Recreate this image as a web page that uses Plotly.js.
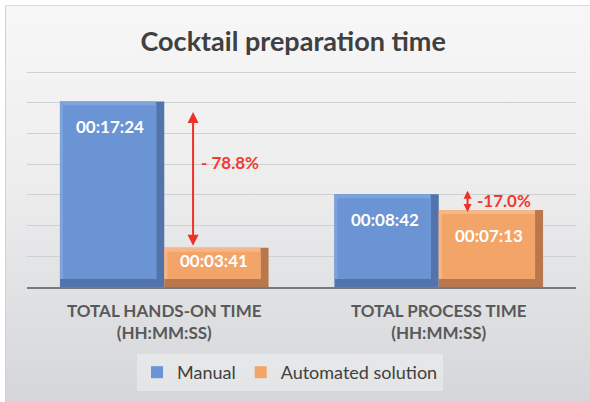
<!DOCTYPE html>
<html>
<head>
<meta charset="utf-8">
<script src="https://cdn.plot.ly/plotly-3.0.1.min.js"></script>
<style>
  html, body { margin: 0; padding: 0; }
  body { width: 590px; height: 402px; position: relative; overflow: hidden; }
  #bg {
    position: absolute; left: 5px; top: 5px; width: 584px; height: 396px;
    border-left: 1px solid #cfd1d3; border-top: 1px solid #dcdcdc;
    background: linear-gradient(to bottom, #f7f7f7 0%, #ededee 45%, #d4d6d9 100%);
  }
  #chart { position: absolute; left: 0; top: 0; width: 590px; height: 402px; }
</style>
</head>
<body>
<div id="bg"></div>
<div id="chart"></div>
<script>
// values in seconds
const categories = ['TOTAL HANDS-ON TIME<br>(HH:MM:SS)', 'TOTAL PROCESS TIME<br>(HH:MM:SS)'];
const manualSec = [1044, 522];      // 00:17:24, 00:08:42
const automatedSec = [221, 433];    // 00:03:41, 00:07:13
const changeLabels = ['- 78.8%', '-17.0%'];

// Excel time axis: grid every 0.002 day
const gridStep = 172.8;
const yTop = 7 * gridStep * 1.01;

// plot box in px, used to turn bevel sizes into axis units
const M = { l: 27, r: 14, t: 70, b: 115 };
const plotW = 590 - M.l - M.r, plotH = 402 - M.t - M.b;
const pxX = 2 / plotW;          // x range is 2 categories wide
const pxY = yTop / plotH;

function hms(s) {
  const h = Math.floor(s / 3600), m = Math.floor((s % 3600) / 60), sec = s % 60;
  return [h, m, sec].map(v => String(v).padStart(2, '0')).join(':');
}

const font = 'Lato, "Open Sans", sans-serif';
const barW = 0.38;
const bevel = { l: 3, r: 8, t: 4, b: 8 };

const series = [
  { name: 'Manual', vals: manualSec, off: -barW, edge: '#5273ab', light: '#7ea3dc', face: '#6a94d4' },
  { name: 'Automated solution', vals: automatedSec, off: 0, edge: '#b9774d', light: '#f7b688', face: '#f3a469' }
];

const xs = [0, 1];
const traces = [];
series.forEach(s => {
  const baseB = bevel.b * pxY;
  traces.push({
    type: 'bar', x: xs, y: s.vals, offset: s.off, width: barW,
    marker: { color: s.edge }, showlegend: false, hoverinfo: 'skip'
  });
  traces.push({
    type: 'bar', x: xs, y: s.vals.map(v => v - baseB), base: baseB,
    offset: s.off, width: barW - bevel.r * pxX,
    marker: { color: s.light }, showlegend: false, hoverinfo: 'skip'
  });
  traces.push({
    type: 'bar', name: s.name, x: xs, y: s.vals.map(v => v - baseB - bevel.t * pxY), base: baseB,
    offset: s.off + bevel.l * pxX, width: barW - (bevel.l + bevel.r) * pxX,
    marker: { color: s.face }, hoverinfo: 'skip'
  });
});

const annotations = [];

// value labels inside the bars
series.forEach(s => {
  s.vals.forEach((v, i) => {
    const px = v / pxY;
    annotations.push({
      x: i + s.off + barW / 2, y: v, xref: 'x', yref: 'y', text: hms(v), showarrow: false,
      yanchor: 'middle', yshift: -Math.min(25, px / 3), xshift: -2,
      font: { family: font, size: 17, color: '#ffffff', weight: 'bold' }
    });
  });
});

// red double arrows with percentage change
const arrowX = 0.105;
const tipTop = [-9, 5];      // px past the manual bar top
const tipBottom = [2, -2];   // px above the automated bar top
const labelShift = [[6, 12], [7, 2]];
manualSec.forEach((m, i) => {
  const a = automatedSec[i];
  annotations.push({
    x: i + arrowX, y: a + tipBottom[i] * pxY, ax: i + arrowX, ay: m + tipTop[i] * pxY,
    xref: 'x', yref: 'y', axref: 'x', ayref: 'y',
    text: '', showarrow: true, arrowside: 'end+start', arrowhead: 2,
    arrowsize: i === 0 ? 1.1 : 0.8, arrowwidth: 2, arrowcolor: '#ee3027', standoff: 0, startstandoff: 0
  });
  annotations.push({
    x: i + arrowX, y: (m + a) / 2, xref: 'x', yref: 'y', text: changeLabels[i],
    showarrow: false, xanchor: 'left', xshift: labelShift[i][0], yshift: labelShift[i][1],
    font: { family: font, size: 17, color: '#ee3b2e', weight: 'bold' }
  });
});

const layout = {
  width: 590, height: 402,
  margin: M,
  paper_bgcolor: 'rgba(0,0,0,0)',
  plot_bgcolor: 'rgba(0,0,0,0)',
  barmode: 'overlay',
  title: {
    text: 'Cocktail preparation time', x: 0.497, xanchor: 'center',
    y: 1 - 42 / 402, yref: 'container', yanchor: 'middle',
    font: { family: font, size: 27, color: '#404040', weight: 'bold' }
  },
  xaxis: {
    type: 'linear', range: [-0.5, 1.5], tickvals: xs, ticktext: categories,
    showgrid: false, zeroline: false, showline: true, linecolor: '#7a7a7a', linewidth: 1.5,
    ticks: '', ticklabelstandoff: 8,
    tickfont: { family: font, size: 17, color: '#595959', weight: 'bold' }
  },
  yaxis: {
    range: [0, yTop], tick0: 0, dtick: gridStep, showticklabels: false,
    showgrid: true, gridcolor: '#cfd0d2', gridwidth: 1, zeroline: false, showline: false
  },
  showlegend: true,
  legend: {
    orientation: 'h', x: (137 - M.l) / plotW, xanchor: 'left',
    y: 1 - 354 / 402, yref: 'container', yanchor: 'top',
    bgcolor: 'rgba(255,255,255,0.35)', borderwidth: 0, traceorder: 'normal',
    font: { family: font, size: 18, color: '#404040' }
  },
  annotations: annotations
};

Plotly.newPlot('chart', traces, layout, { displayModeBar: false, staticPlot: true });
</script>
</body>
</html>
